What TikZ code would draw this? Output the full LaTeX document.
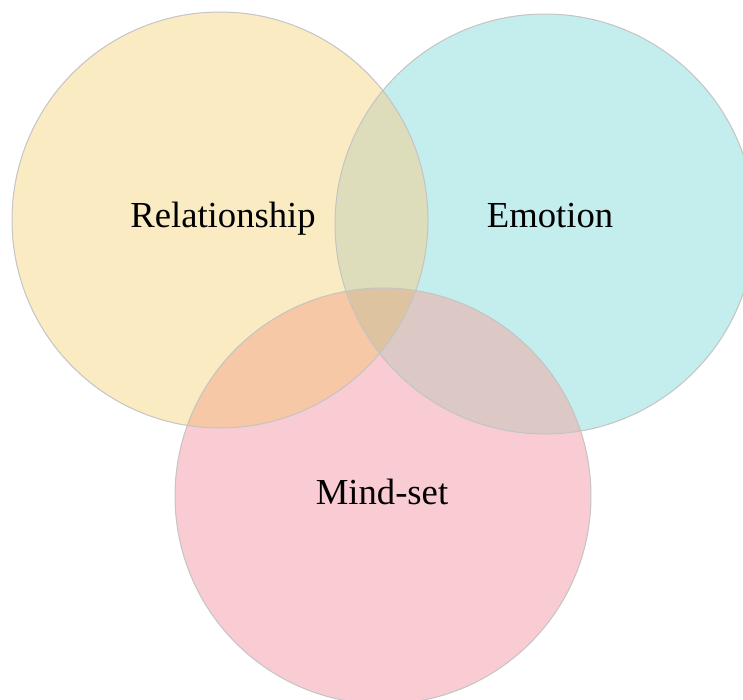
\documentclass[tikz,border=0pt]{standalone}
\usepackage{fontspec}
\setmainfont{Liberation Serif}
\usepackage{tikz}
\usetikzlibrary{positioning}

\definecolor{relyellow}{HTML}{FAEBC3}
\definecolor{emocyan}{HTML}{C4EDED}
\definecolor{mindpink}{HTML}{F9CCD3}
\definecolor{relemo}{HTML}{DDDDBC}
\definecolor{relmind}{HTML}{F6C8A5}
\definecolor{emomind}{HTML}{DCC8C4}
\definecolor{allthree}{HTML}{DEC3A0}
\definecolor{rimgray}{HTML}{C4C4C4}

\tikzset{
    rim/.style={draw=rimgray, line width=0.75pt},
    setname/.style={anchor=base, text=black,
      font=\fontsize{27.5}{33}\selectfont}
}

\begin{document}
\begin{tikzpicture}[x=0.75pt, y=-0.75pt]

    \useasboundingbox (0,0) rectangle (743,700);

    \coordinate (rel) at (220,220);
    \coordinate (emo) at (545,224);
    \coordinate (mind) at (383,496);

    \fill [relyellow] (rel) circle (156pt);
    \fill [emocyan] (emo) circle (157.5pt);
    \fill [mindpink] (mind) circle (156pt);

    % overlaps
    \begin{scope}
      \clip (emo) circle (157.5pt);
      \fill [emomind] (mind) circle (156pt);
    \end{scope}
    \begin{scope}
      \clip (rel) circle (156pt);
      \fill [relemo] (emo) circle (157.5pt);
      \fill [relmind] (mind) circle (156pt);
      \clip (emo) circle (157.5pt);
      \fill [allthree] (mind) circle (156pt);
    \end{scope}

    \draw [rim] (rel) circle (156pt);
    \draw [rim] (emo) circle (157.5pt);
    \draw [rim] (mind) circle (156pt);

    \node [setname] (reltext) at (223,227) {Relationship};
    \node [setname] (emotext) at (550,227) {Emotion};
    \node [setname] (mindtext) at (382,504) {Mind-set};

  \end{tikzpicture}
\end{document}
